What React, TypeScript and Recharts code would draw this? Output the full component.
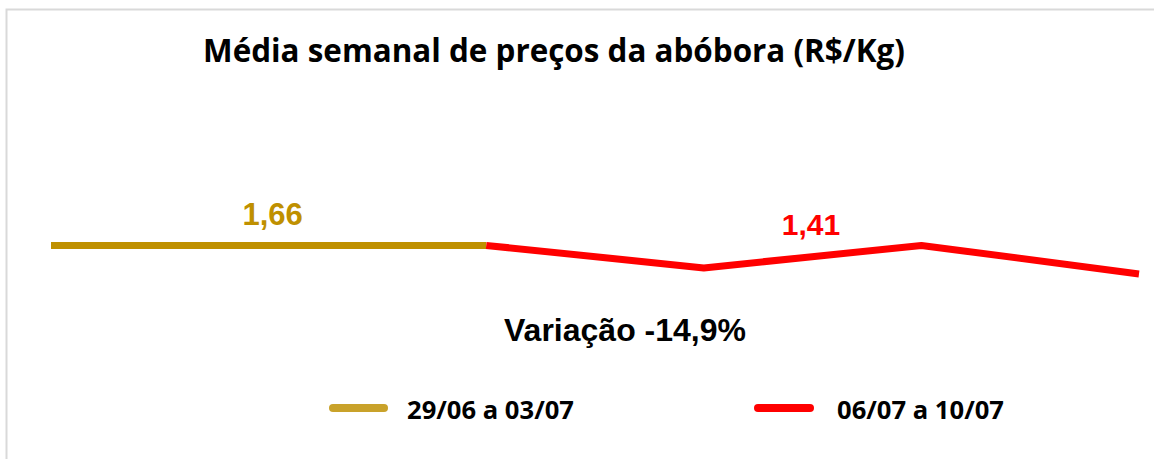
import React from 'react';
import { LineChart, Line, XAxis, YAxis, Legend } from 'recharts';

// daily points (hidden axis), gold week then red week
const days = ['1', '2', '3', '4', '5', '6'];
const goldWeek = [1.66, 1.66, 1.66, null, null, null];
const redWeek = [null, null, 1.66, 1.40, 1.66, 1.33];

const goldLabel = '29/06 a 03/07';
const redLabel = '06/07 a 10/07';
const goldAverage = 1.66;
const redAverage = 1.41;
const variation = 'Variação -14,9%';
const title = 'Média semanal de preços da abóbora (R$/Kg)';

const GOLD = '#BF9000';
const RED = '#FF0000';

const data = days.map((d, i) => ({ day: d, gold: goldWeek[i], red: redWeek[i] }));

const fmt = (v: number) => v.toFixed(2).replace('.', ',');

const GoldLabel = (props: any) => {
    const { x, y, index } = props;
    if (index !== 1) return null;
    return (
        <text x={x + 4} y={y - 20} textAnchor="middle" fill={GOLD}
            style={{ fontFamily: 'Liberation Sans, Arial', fontWeight: 700, fontSize: 31 }}>
            {fmt(goldAverage)}
        </text>
    );
};

const LegendBox = () => (
    <div style={{ position: 'relative', width: 1154, height: 40 }}>
        <svg width={1154} height={40} style={{ display: 'block' }}>
            <line x1={333} x2={384} y1={20} y2={20} stroke="#C9A22A" strokeWidth={8} strokeLinecap="round" />
            <text x={407} y={31} style={{ fontFamily: 'Open Sans', fontWeight: 700, fontSize: 25.6 }} fill="#000">{goldLabel}</text>
            <line x1={758} x2={810} y1={20} y2={20} stroke={RED} strokeWidth={8} strokeLinecap="round" />
            <text x={837} y={31} style={{ fontFamily: 'Open Sans', fontWeight: 700, fontSize: 25.6 }} fill="#000">{redLabel}</text>
        </svg>
    </div>
);

export default function App() {
    return (
        <div style={{ position: 'absolute', left: 0, top: 0, width: 1154, height: 459, background: '#fff' }}>
            <LineChart width={1154} height={459} data={data}
                margin={{ top: 216, right: 15, left: 51, bottom: 116.5 }}>
                <XAxis dataKey="day" hide />
                <YAxis hide domain={[1, 2]} />
                <Legend verticalAlign="bottom" content={<LegendBox />}
                    wrapperStyle={{ top: 388, left: 0, width: 1154 }} />
                <Line dataKey="gold" stroke={GOLD} strokeWidth={7} dot={false} activeDot={false}
                    strokeLinejoin="round" connectNulls={false} isAnimationActive={false} label={<GoldLabel />} />
                <Line dataKey="red" stroke={RED} strokeWidth={7} dot={false} activeDot={false}
                    strokeLinejoin="round" isAnimationActive={false} />
            </LineChart>
            <svg width={1154} height={459} style={{ position: 'absolute', left: 0, top: 0, pointerEvents: 'none' }}>
                <path d="M6.5 470 L6.5 9.5 L1160 9.5" fill="none" stroke="#D9D9D9" strokeWidth={2} />
                <text x={554} y={62} textAnchor="middle"
                    style={{ fontFamily: 'Open Sans', fontWeight: 700, fontSize: 31.4 }} fill="#000">{title}</text>
                <text x={811} y={235} textAnchor="middle" fill={RED}
                    style={{ fontFamily: 'Liberation Sans, Arial', fontWeight: 700, fontSize: 30 }}>{fmt(redAverage)}</text>
                <text x={625} y={341} textAnchor="middle" fill="#000"
                    style={{ fontFamily: 'Liberation Sans, Arial', fontWeight: 700, fontSize: 32 }}>{variation}</text>
            </svg>
        </div>
    );
}
